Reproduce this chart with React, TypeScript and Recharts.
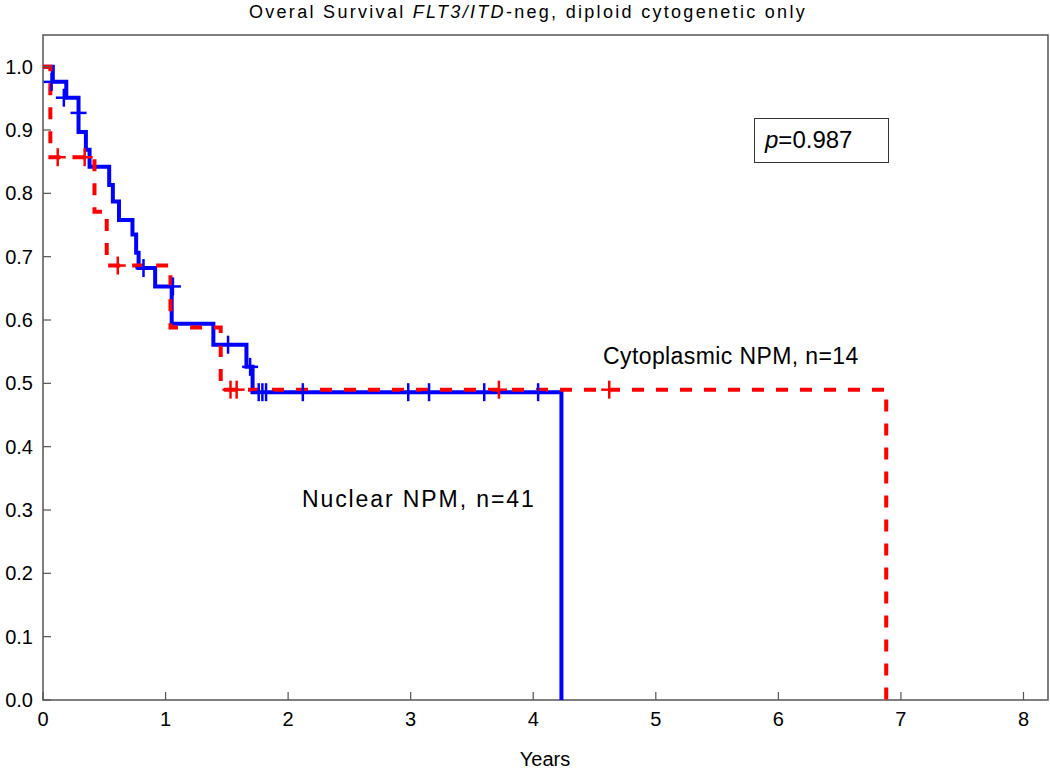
import React from 'react';
import { ComposedChart, Line, Scatter, XAxis, YAxis, ReferenceArea } from 'recharts';

// tick labels
const xTicks = [0, 1, 2, 3, 4, 5, 6, 7, 8];
const yTicks = [0, 0.1, 0.2, 0.3, 0.4, 0.5, 0.6, 0.7, 0.8, 0.9, 1.0];

// Nuclear NPM, n=41 (blue) - KM steps (years, survival)
const nuclearSteps = [
  { t: 0, s: 1.0 },
  { t: 0.08, s: 0.976 },
  { t: 0.19, s: 0.951 },
  { t: 0.29, s: 0.897 },
  { t: 0.35, s: 0.869 },
  { t: 0.38, s: 0.842 },
  { t: 0.54, s: 0.813 },
  { t: 0.57, s: 0.787 },
  { t: 0.62, s: 0.758 },
  { t: 0.73, s: 0.735 },
  { t: 0.76, s: 0.706 },
  { t: 0.78, s: 0.682 },
  { t: 0.915, s: 0.653 },
  { t: 1.05, s: 0.594 },
  { t: 1.39, s: 0.561 },
  { t: 1.66, s: 0.526 },
  { t: 1.71, s: 0.486 },
  { t: 4.23, s: 0 },
];

// Cytoplasmic NPM, n=14 (red dashed)
const cytoSteps = [
  { t: 0, s: 1.0 },
  { t: 0.06, s: 0.857 },
  { t: 0.42, s: 0.771 },
  { t: 0.52, s: 0.686 },
  { t: 1.04, s: 0.588 },
  { t: 1.45, s: 0.49 },
  { t: 6.88, s: 0 },
];

// censored marks
const nuclearCensored = [
  { t: 0.07, s: 0.976 },
  { t: 0.17, s: 0.951 },
  { t: 0.29, s: 0.927 },
  { t: 0.82, s: 0.682 },
  { t: 1.06, s: 0.653 },
  { t: 1.51, s: 0.561 },
  { t: 1.69, s: 0.526 },
  { t: 1.76, s: 0.486 },
  { t: 1.79, s: 0.486 },
  { t: 1.82, s: 0.486 },
  { t: 2.12, s: 0.486 },
  { t: 2.98, s: 0.486 },
  { t: 3.15, s: 0.486 },
  { t: 3.6, s: 0.486 },
  { t: 4.04, s: 0.486 },
];

const cytoCensored = [
  { t: 0.12, s: 0.857 },
  { t: 0.34, s: 0.857 },
  { t: 0.61, s: 0.686 },
  { t: 1.53, s: 0.49 },
  { t: 1.58, s: 0.49 },
  { t: 3.72, s: 0.49 },
  { t: 4.62, s: 0.49 },
];

const FONT = '"Liberation Sans", Arial, sans-serif';
const AXIS = '#555';

const XTick = (props: any) => {
  const { x, y, payload } = props;
  return (
    <g>
      <line x1={x} y1={y} x2={x} y2={y - 8} stroke={AXIS} strokeWidth={1.2} />
      <text x={x} y={y + 26} textAnchor="middle" fontSize={20} fontFamily={FONT} fill="#000">
        {payload.value}
      </text>
    </g>
  );
};

const YTick = (props: any) => {
  const { x, y, payload } = props;
  return (
    <g>
      <line x1={x} y1={y} x2={x + 8} y2={y} stroke={AXIS} strokeWidth={1.2} />
      <text x={x - 10} y={y} dy="0.35em" textAnchor="end" fontSize={20} fontFamily={FONT} fill="#000">
        {Number(payload.value).toFixed(1)}
      </text>
    </g>
  );
};

const TopTick = (props: any) => {
  const { x, y } = props;
  return <line x1={x} y1={y} x2={x} y2={y + 8} stroke={AXIS} strokeWidth={1.2} />;
};

const RightTick = (props: any) => {
  const { x, y } = props;
  return <line x1={x} y1={y} x2={x - 8} y2={y} stroke={AXIS} strokeWidth={1.2} />;
};

const plus = (color: string) => (p: any) => {
  const { cx, cy } = p;
  return (
    <g>
      <line x1={cx - 8} y1={cy} x2={cx + 8} y2={cy} stroke={color} strokeWidth={2.5} />
      <line x1={cx} y1={cy - 9} x2={cx} y2={cy + 9} stroke={color} strokeWidth={2.5} />
    </g>
  );
};

export default function App() {
  return (
    <div style={{ position: 'absolute', left: 0, top: 0, width: 1050, height: 771, fontFamily: FONT }}>
      <ComposedChart width={1050} height={771} margin={{ top: 35, right: 2, bottom: 0, left: 0 }}>
        <XAxis
          dataKey="t"
          type="number"
          domain={[0, 8.2]}
          ticks={xTicks}
          height={71}
          axisLine={false}
          tickLine={false}
          tickSize={0}
          tickMargin={0}
          tick={<XTick />}
          allowDataOverflow
        />
        <XAxis
          xAxisId="top"
          orientation="top"
          type="number"
          domain={[0, 8.2]}
          ticks={xTicks}
          height={0}
          axisLine={false}
          tickLine={false}
          tickSize={0}
          tickMargin={0}
          tick={<TopTick />}
          allowDataOverflow
        />
        <YAxis
          dataKey="s"
          type="number"
          domain={[0, 1.05]}
          ticks={yTicks}
          width={43}
          axisLine={false}
          tickLine={false}
          tickSize={0}
          tickMargin={0}
          tick={<YTick />}
          allowDataOverflow
        />
        <YAxis
          yAxisId="right"
          orientation="right"
          type="number"
          domain={[0, 1.05]}
          ticks={yTicks}
          width={0}
          axisLine={false}
          tickLine={false}
          tickSize={0}
          tickMargin={0}
          tick={<RightTick />}
          allowDataOverflow
        />
        <ReferenceArea x1={0} x2={8.2} y1={0} y2={1.05} fill="none" stroke={AXIS} strokeWidth={1.5} ifOverflow="visible" />
        <Line
          data={nuclearSteps}
          dataKey="s"
          type="stepAfter"
          stroke="#0000ff"
          strokeWidth={4}
          dot={false}
          isAnimationActive={false}
        />
        <Line
          data={cytoSteps}
          dataKey="s"
          type="stepAfter"
          stroke="#ff0000"
          strokeWidth={4}
          strokeDasharray="12 12"
          dot={false}
          isAnimationActive={false}
        />
        <Scatter data={nuclearCensored} dataKey="s" shape={plus('#0000ff')} isAnimationActive={false} />
        <Scatter data={cytoCensored} dataKey="s" shape={plus('#ff0000')} isAnimationActive={false} />
      </ComposedChart>

      <div style={{ position: 'absolute', left: 0, width: 1050, paddingLeft: 6, boxSizing: 'border-box', top: 2, textAlign: 'center', fontSize: 18, letterSpacing: 2.3, color: '#000', whiteSpace: 'nowrap' }}>
        Overal Survival <i>FLT3/ITD</i>-neg, diploid cytogenetic only
      </div>
      <div style={{ position: 'absolute', left: 0, width: 1050, paddingLeft: 40, boxSizing: 'border-box', top: 748, textAlign: 'center', fontSize: 20, color: '#000' }}>
        Years
      </div>
      <div style={{ position: 'absolute', left: 603, top: 343, fontSize: 23, letterSpacing: 0.4, color: '#000', whiteSpace: 'nowrap' }}>
        Cytoplasmic NPM, n=14
      </div>
      <div style={{ position: 'absolute', left: 302, top: 486, fontSize: 23, letterSpacing: 1.9, color: '#000', whiteSpace: 'nowrap' }}>
        Nuclear NPM, n=41
      </div>
      <div
        style={{
          position: 'absolute',
          left: 754,
          top: 118,
          width: 135,
          height: 45,
          boxSizing: 'border-box',
          border: '1.5px solid #333',
          background: '#fff',
          fontSize: 24,
          lineHeight: '42px',
          paddingLeft: 10,
          color: '#000',
        }}
      >
        <i>p</i>=0.987
      </div>
    </div>
  );
}
